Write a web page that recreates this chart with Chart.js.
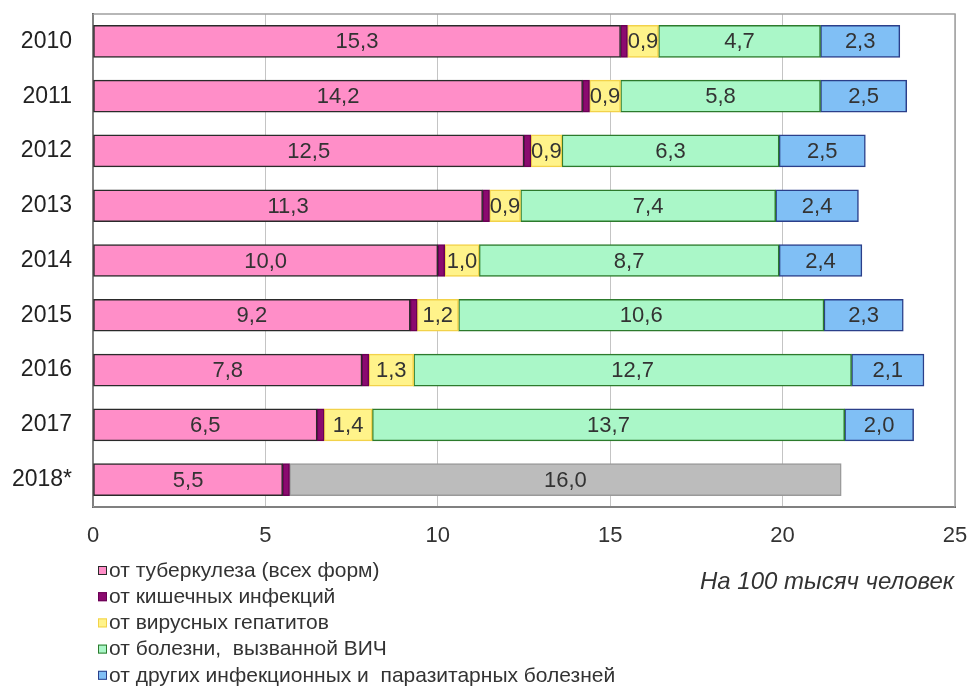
<!DOCTYPE html>
<html lang="ru">
<head>
  <meta charset="UTF-8">
  <title>Смертность от инфекционных болезней</title>
  <script src="https://cdn.jsdelivr.net/npm/chart.js"></script>
  <style>
    html, body { margin: 0; padding: 0; background: #fff; }
    #wrap { position: relative; width: 973px; height: 687px; }
    #note {
      position: absolute; left: 700px; top: 567px;
      font: italic 24px "Liberation Sans", Arial, sans-serif; color: #333;
      white-space: nowrap;
    }
  </style>
</head>
<body>
  <div id="wrap">
    <canvas id="chart" width="973" height="687"></canvas>
    <div id="note">На 100 тысяч человек</div>
  </div>

  <script>
    // данные с графика
    const years = ['2010', '2011', '2012', '2013', '2014', '2015', '2016', '2017', '2018*'];
    const tuberculosis = [15.3, 14.2, 12.5, 11.3, 10.0, 9.2, 7.8, 6.5, 5.5];
    const intestinal = [0.2, 0.2, 0.2, 0.2, 0.2, 0.2, 0.2, 0.2, 0.2];
    const hepatitis = [0.9, 0.9, 0.9, 0.9, 1.0, 1.2, 1.3, 1.4, null];
    const hiv = [4.7, 5.8, 6.3, 7.4, 8.7, 10.6, 12.7, 13.7, null];
    const other = [2.3, 2.5, 2.5, 2.4, 2.4, 2.3, 2.1, 2.0, null];
    const total2018 = [null, null, null, null, null, null, null, null, 16.0];
    const xTicks = [0, 5, 10, 15, 20, 25];

    const FONT = '"Liberation Sans", Arial, sans-serif';

    function fmt(v) {
      return v.toFixed(1).replace('.', ',');
    }

    // подписи внутри сегментов
    const labelsPlugin = {
      id: 'segLabels',
      afterDatasetsDraw(chart) {
        const ctx = chart.ctx;
        ctx.save();
        ctx.font = '22px ' + FONT;
        ctx.textAlign = 'center';
        ctx.textBaseline = 'middle';
        chart.data.datasets.forEach((ds, i) => {
          if (!ds.showLabel) return;
          chart.getDatasetMeta(i).data.forEach((bar, j) => {
            const v = ds.data[j];
            if (v == null) return;
            ctx.fillStyle = '#333';
            ctx.fillText(fmt(v), (bar.x + bar.base) / 2, bar.y + 1);
          });
        });
        ctx.restore();
      }
    };

    // рамка области графика
    const framePlugin = {
      id: 'frame',
      beforeDatasetsDraw(chart) {
        const a = chart.chartArea;
        const ctx = chart.ctx;
        ctx.save();
        ctx.strokeStyle = '#a0a0a0';
        ctx.lineWidth = 1.5;
        ctx.strokeRect(a.left, a.top, a.right - a.left, a.bottom - a.top);
        ctx.restore();
      }
    };

    // легенда столбиком снизу
    const legendPlugin = {
      id: 'colLegend',
      afterDraw(chart) {
        const ctx = chart.ctx;
        ctx.save();
        ctx.font = '21px ' + FONT;
        ctx.textBaseline = 'middle';
        let y = 570;
        chart.data.datasets.forEach(ds => {
          if (!ds.inLegend) return;
          ctx.fillStyle = ds.backgroundColor;
          ctx.fillRect(98, y - 4, 9, 9);
          ctx.strokeStyle = ds.borderColor;
          ctx.lineWidth = 1;
          ctx.strokeRect(98.5, y - 3.5, 8, 8);
          ctx.fillStyle = '#333';
          ctx.fillText(ds.label, 109, y + 1);
          y += 26.2;
        });
        ctx.restore();
      }
    };

    new Chart(document.getElementById('chart'), {
      type: 'bar',
      data: {
        labels: years,
        datasets: [
          {
            label: 'от туберкулеза (всех форм)',
            data: tuberculosis,
            backgroundColor: '#ff8ec8',
            borderColor: '#2a2a2a',
            showLabel: true, inLegend: true
          },
          {
            label: 'от кишечных инфекций',
            data: intestinal,
            backgroundColor: '#8b0a6f',
            borderColor: '#6a0054',
            showLabel: false, inLegend: true
          },
          {
            label: 'от вирусных гепатитов',
            data: hepatitis,
            backgroundColor: '#fff38a',
            borderColor: '#f2d24a',
            showLabel: true, inLegend: true
          },
          {
            label: 'от болезни,  вызванной ВИЧ',
            data: hiv,
            backgroundColor: '#aaf7c8',
            borderColor: '#2c7a2c',
            showLabel: true, inLegend: true
          },
          {
            label: 'от других инфекционных и  паразитарных болезней',
            data: other,
            backgroundColor: '#80bff5',
            borderColor: '#2b3f8a',
            showLabel: true, inLegend: true
          },
          {
            label: 'всего 2018',
            data: total2018,
            backgroundColor: '#bcbcbc',
            borderColor: '#9a9a9a',
            showLabel: true, inLegend: false
          }
        ]
      },
      options: {
        indexAxis: 'y',
        responsive: false,
        animation: false,
        devicePixelRatio: 1,
        datasets: {
          bar: {
            borderWidth: 1.5,
            borderSkipped: false,
            barThickness: 32
          }
        },
        layout: {
          padding: { left: 0, top: 14, right: 18, bottom: 140 }
        },
        plugins: {
          legend: { display: false },
          tooltip: { enabled: false }
        },
        scales: {
          x: {
            stacked: true,
            min: 0,
            max: 25,
            afterBuildTicks(axis) {
              axis.ticks = xTicks.map(v => ({ value: v }));
            },
            afterFit(axis) {
              axis.height = 40;
              axis.paddingLeft = 0;
              axis.paddingRight = 0;
            },
            grid: {
              color: '#c4c4c4',
              lineWidth: 1,
              drawTicks: false
            },
            border: { color: '#222', width: 2 },
            ticks: {
              padding: 16,
              color: '#333',
              font: { family: FONT, size: 22 }
            }
          },
          y: {
            stacked: true,
            afterFit(axis) {
              axis.width = 93;
              axis.paddingTop = 0;
              axis.paddingBottom = 0;
            },
            grid: { display: false, drawTicks: false },
            border: { color: '#222', width: 2 },
            ticks: {
              padding: 21,
              color: '#222',
              font: { family: FONT, size: 23 }
            }
          }
        }
      },
      plugins: [framePlugin, labelsPlugin, legendPlugin]
    });
  </script>
</body>
</html>
